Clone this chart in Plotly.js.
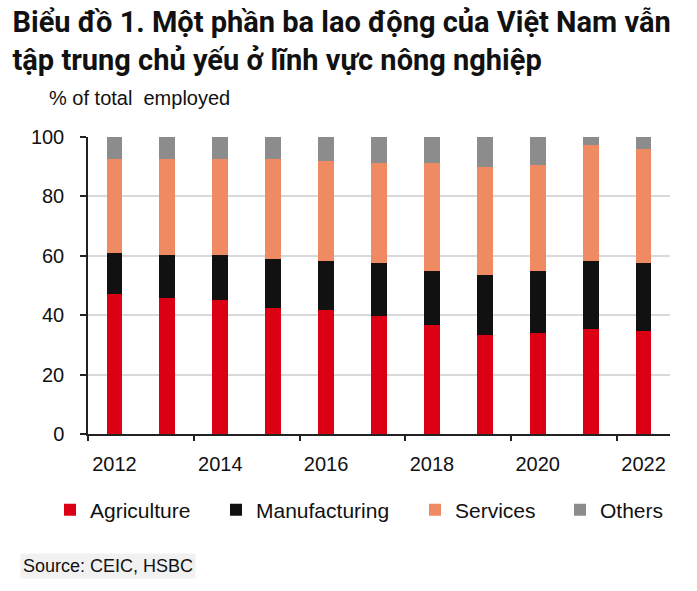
<!DOCTYPE html>
<html>
<head>
<meta charset="utf-8">
<script src="https://cdn.plot.ly/plotly-3.0.1.min.js"></script>
<style>html,body{margin:0;padding:0;background:#fff;}#chart{width:697px;height:591px;}</style>
</head>
<body>
<div id="chart"></div>
<script>
var years = [2012, 2013, 2014, 2015, 2016, 2017, 2018, 2019, 2020, 2021, 2022];
var agriculture   = [47.1, 45.9, 45.1, 42.5, 41.8, 39.8, 36.7, 33.4, 34.1, 35.4, 34.8];
var manufacturing = [13.7, 14.3, 15.1, 16.3, 16.4, 17.8, 18.2, 20.2, 20.8, 22.8, 22.8];
var services      = [31.7, 32.3, 32.3, 33.7, 33.7, 33.8, 36.5, 36.4, 35.8, 39.0, 38.4];
var others        = [7.5, 7.5, 7.5, 7.5, 8.1, 8.6, 8.6, 10.0, 9.3, 2.8, 4.0];
var seriesNames = ["Agriculture", "Manufacturing", "Services", "Others"];
var seriesColors = ["#dc0014", "#111111", "#f08a62", "#8c8c8c"];
var xTickVals = [2012, 2014, 2016, 2018, 2020, 2022];
var xTickText = ["2012", "2014", "2016", "2018", "2020", "2022"];
var xTickMarks = [2011.5, 2013.5, 2015.5, 2017.5, 2019.5, 2021.5];
var yTickVals = [0, 20, 40, 60, 80, 100];

var legendIds = ["legend", "legend2", "legend3", "legend4"];
var legendX = [50, 216, 415, 560];

var seriesValues = [agriculture, manufacturing, services, others];
var traces = seriesValues.map(function (vals, i) {
  return {
    type: "bar",
    x: years,
    y: vals,
    name: seriesNames[i],
    width: 0.3,
    legend: legendIds[i],
    marker: {color: seriesColors[i], line: {width: 0}},
    hoverinfo: "x+y+name"
  };
});
traces.push({type: "scatter", x: [2012], y: [0], xaxis: "x2", yaxis: "y", mode: "markers",
  marker: {opacity: 0}, showlegend: false, hoverinfo: "skip"});

var font = "Liberation Sans, Arial, sans-serif";
var layout = {
  width: 697,
  height: 591,
  barmode: "stack",
  paper_bgcolor: "#ffffff",
  plot_bgcolor: "#ffffff",
  margin: {l: 88, r: 27, t: 137, b: 157},
  font: {family: font, size: 20, color: "#111111"},
  title: {
    text: "Biểu đồ 1. Một phần ba lao động của Việt Nam vẫn<br>tập trung chủ yếu ở lĩnh vực nông nghiệp",
    font: {family: "Roboto, sans-serif", size: 29, weight: 700, color: "#111111"},
    x: 0.018, xref: "container", xanchor: "left",
    y: 0.946, yref: "container", yanchor: "top",
    automargin: false
  },
  xaxis: {
    range: [2011.5, 2022.5],
    tickvals: xTickVals,
    ticktext: xTickText,
    ticks: "",
    showgrid: false,
    showline: true,
    linecolor: "#222222",
    linewidth: 1.5,
    zeroline: false,
    tickfont: {family: font, size: 20, color: "#111111"},
    ticklabelstandoff: 11,
    fixedrange: true
  },
  xaxis2: {
    overlaying: "x",
    anchor: "y",
    side: "bottom",
    range: [2011.5, 2022.5],
    tickvals: xTickMarks,
    showticklabels: false,
    ticks: "outside",
    ticklen: 6,
    tickwidth: 1.5,
    tickcolor: "#222222",
    showgrid: false,
    showline: false,
    zeroline: false,
    fixedrange: true
  },
  yaxis: {
    range: [0, 100],
    tickvals: yTickVals,
    ticks: "outside",
    ticklen: 6,
    tickwidth: 1.5,
    tickcolor: "#222222",
    showline: true,
    linecolor: "#222222",
    linewidth: 1.5,
    showgrid: true,
    gridcolor: "#d9d9d9",
    gridwidth: 1.5,
    zeroline: false,
    tickfont: {family: font, size: 20, color: "#111111"},
    ticklabelstandoff: 12,
    fixedrange: true
  },
  showlegend: true,
  annotations: [
    {
      text: "% of total  employed",
      xref: "paper", yref: "paper",
      x: -0.07, xanchor: "left",
      y: 1.13, yanchor: "middle",
      showarrow: false,
      font: {family: font, size: 20, color: "#111111"}
    },
    {
      text: "Source: CEIC, HSBC",
      xref: "paper", yref: "paper",
      x: -0.117, xanchor: "left",
      y: -0.445, yanchor: "middle",
      showarrow: false,
      bgcolor: "#f1f1f1",
      borderpad: 2,
      font: {family: font, size: 18, color: "#111111"}
    }
  ]
};
legendIds.forEach(function (id, i) {
  layout[id] = {
    orientation: "h",
    x: legendX[i] / 697, xanchor: "left", xref: "container",
    y: 0.137, yref: "container", yanchor: "middle",
    font: {family: font, size: 21, color: "#111111"},
    bgcolor: "rgba(0,0,0,0)",
    itemclick: false,
    itemdoubleclick: false
  };
});

Plotly.newPlot("chart", traces, layout, {displayModeBar: false});
</script>
</body>
</html>
